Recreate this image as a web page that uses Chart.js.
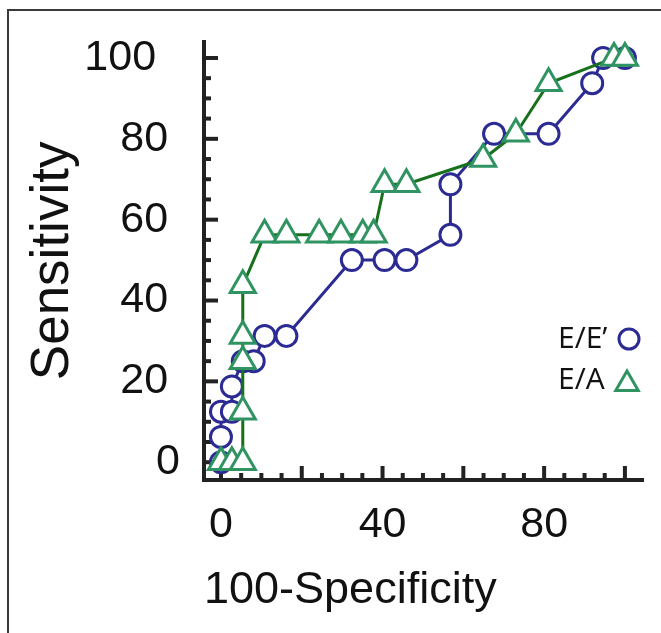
<!DOCTYPE html>
<html>
<head>
<meta charset="utf-8">
<script src="https://cdn.jsdelivr.net/npm/chart.js@4.4.1/dist/chart.umd.min.js"></script>
<style>
  html, body { margin: 0; padding: 0; background: #fff; }
  #wrap { position: relative; width: 661px; height: 633px; overflow: hidden; }
  #frame { position: absolute; left: 7px; top: 9px; width: 700px; height: 700px;
           border-left: 2px solid #3a3a3a; border-top: 2px solid #3a3a3a; }
  canvas { position: absolute; left: 0; top: 0; }
</style>
</head>
<body>
<div id="wrap">
  <div id="frame"></div>
  <canvas id="roc" width="661" height="633"></canvas>
</div>
<script>
// ROC points (100-specificity, sensitivity)
const eeX = [0, 0, 0, 2.7, 2.7, 5.4, 8.1, 10.8, 16.2, 32.4, 40.5, 45.9, 56.8, 56.8, 67.6, 81.1, 91.9, 94.6, 100];
const eeY = [0, 6.25, 12.5, 12.5, 18.75, 25, 25, 31.25, 31.25, 50, 50, 50, 56.25, 68.75, 81.25, 81.25, 93.75, 100, 100];
const eaX = [0, 2.7, 5.4, 5.4, 5.4, 5.4, 5.4, 10.8, 16.2, 24.3, 29.7, 35.1, 37.8, 40.5, 45.9, 64.9, 73, 81.1, 97.3, 100];
const eaY = [0, 0, 0, 12.5, 25, 31.25, 43.75, 56.25, 56.25, 56.25, 56.25, 56.25, 56.25, 68.75, 68.75, 75, 81.25, 93.75, 100, 100];

const seriesNames = ["E/E\u2019", "E/A"];
const xTickValues = [0, 40, 80];
const yTickValues = [0, 20, 40, 60, 80, 100];
// labels in the figure are not lined up on the right edge
const yTickLabels = ["0", "20 ", "40 ", "60 ", "80 ", "100  "];
const minorSteps = [0, 5, 10, 15, 20, 25, 30, 35, 40, 45, 50, 55, 60, 65, 70, 75, 80, 85, 90, 95, 100];

const blue = "#2b2b93";
const greenMark = "#2f9461";
const greenLine = "#17701c";
const axisColor = "#222222";

const toPoints = (xs, ys) => xs.map((x, i) => ({ x: x, y: ys[i] }));

//tick marks point inwards, long every 20 and short every 5
const tickMarks = {
  id: "tickMarks",
  beforeDatasetsDraw(chart) {
    const { ctx, chartArea, scales } = chart;
    ctx.save();
    ctx.strokeStyle = axisColor;
    ctx.lineWidth = 4;
    for (const v of minorSteps) {
      const len = v % 20 === 0 ? 14 : 7;
      const y = scales.y.getPixelForValue(v);
      ctx.beginPath();
      ctx.moveTo(chartArea.left, y);
      ctx.lineTo(chartArea.left + len, y);
      ctx.stroke();
      const x = scales.x.getPixelForValue(v);
      ctx.beginPath();
      ctx.moveTo(x, chartArea.bottom);
      ctx.lineTo(x, chartArea.bottom - len);
      ctx.stroke();
    }
    ctx.restore();
  }
};

//legend sits inside the plot, text first and the marker after it
const insideLegend = {
  id: "insideLegend",
  afterDraw(chart) {
    const ctx = chart.ctx;
    const rows = [
      { text: seriesNames[0], y: 339, style: "circle", radius: 10, color: blue, mx: 629 },
      { text: seriesNames[1], y: 380, style: "triangle", radius: 13, color: greenMark, mx: 627 }
    ];
    ctx.save();
    ctx.font = "30px 'Open Sans'";
    ctx.textAlign = "left";
    ctx.textBaseline = "middle";
    for (const r of rows) {
      ctx.fillStyle = "#111111";
      ctx.fillText(r.text, 558, r.y);
      ctx.strokeStyle = r.color;
      ctx.fillStyle = "#ffffff";
      ctx.lineWidth = 3;
      Chart.helpers.drawPoint(ctx, { pointStyle: r.style, radius: r.radius, rotation: 0, borderWidth: 3 }, r.mx, r.style === "triangle" ? r.y + 4 : r.y);
    }
    ctx.restore();
  }
};

const roc = new Chart(document.getElementById("roc"), {
  type: "scatter",
  plugins: [tickMarks, insideLegend],
  data: {
    datasets: [
      {
        label: seriesNames[0],
        data: toPoints(eeX, eeY),
        showLine: true,
        borderColor: blue,
        borderWidth: 3,
        pointStyle: "circle",
        pointRadius: 10.5,
        pointBorderWidth: 3,
        pointBorderColor: blue,
        pointBackgroundColor: "#ffffff",
        order: 1,
        clip: false
      },
      {
        label: seriesNames[1],
        data: toPoints(eaX, eaY),
        showLine: true,
        borderColor: greenLine,
        borderWidth: 3,
        pointStyle: "triangle",
        pointRadius: 14.5,
        pointBorderWidth: 3,
        pointBorderColor: greenMark,
        pointBackgroundColor: "#ffffff",
        order: 0,
        clip: false
      }
    ]
  },
  options: {
    responsive: false,
    animation: false,
    layout: { padding: { top: 37, right: 14, left: 0, bottom: 0 } },
    plugins: {
      legend: { display: false },
      tooltip: { enabled: false }
    },
    scales: {
      x: {
        type: "linear",
        min: -4.2,
        max: 104.6,
        afterBuildTicks: (s) => { s.ticks = xTickValues.map((v) => ({ value: v })); },
        afterFit: (s) => { s.height = 153; },
        grid: { display: false },
        border: { display: true, color: axisColor, width: 4 },
        ticks: {
          color: "#111111",
          font: { family: "'Liberation Sans', Arial", size: 43 },
          padding: 11,
          maxRotation: 0,
          autoSkip: false
        },
        title: {
          display: true,
          text: "100-Specificity",
          align: "start",
          color: "#111111",
          font: { family: "'Liberation Sans', Arial", size: 45 },
          padding: { top: 0, bottom: 15 }
        }
      },
      y: {
        type: "linear",
        min: -4.4,
        max: 104,
        afterBuildTicks: (s) => { s.ticks = yTickValues.map((v) => ({ value: v })); },
        afterFit: (s) => { s.width = 204; },
        grid: { display: false },
        border: { display: true, color: axisColor, width: 4 },
        ticks: {
          color: "#111111",
          font: { family: "'Liberation Sans', Arial", size: 43 },
          padding: 16,
          callback: (v) => yTickLabels[yTickValues.indexOf(v)]
        },
        title: {
          display: true,
          text: "Sensitivity",
          color: "#111111",
          font: { family: "'Liberation Sans', Arial", size: 53 },
          padding: { top: 22, bottom: 0 }
        }
      }
    }
  }
});
</script>
</body>
</html>
